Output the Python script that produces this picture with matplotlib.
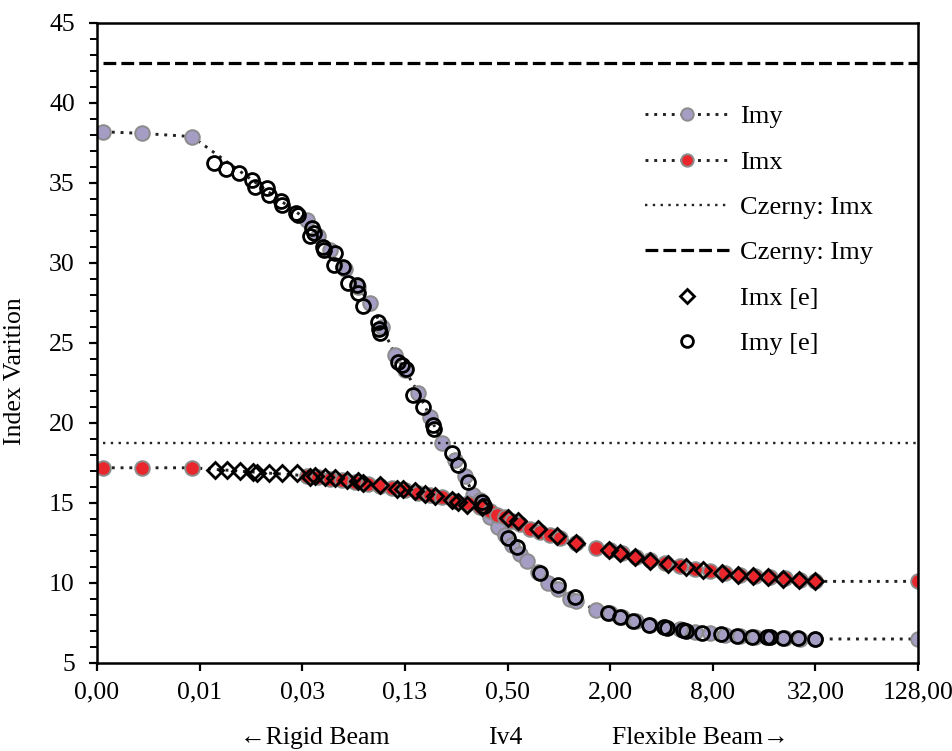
import matplotlib
matplotlib.use("Agg")
import matplotlib.pyplot as plt
from matplotlib.ticker import FixedLocator, MultipleLocator, NullFormatter

plt.rcParams['font.family'] = ['Liberation Serif', 'DejaVu Serif']

# simulation, Imy (purple)
imy_x = [0.00212, 0.00359, 0.00705, 0.03334, 0.03869, 0.04550, 0.05569, 0.06644,
         0.07813, 0.09188, 0.1095, 0.1254, 0.1494, 0.1757, 0.2066, 0.2464,
         0.2818, 0.3140, 0.3453, 0.3953, 0.4405, 0.4839, 0.5321, 0.5929,
         0.6516, 0.7563, 0.8657, 0.9903, 1.165, 1.263, 1.655, 2.000, 2.352,
         2.842, 3.434, 4.205, 5.152, 6.307, 7.723, 9.457, 11.58, 14.19,
         17.37, 21.27, 26.06, 32.0, 128.0]
imy_y = [38.2, 38.1, 37.9, 32.7, 31.7, 30.8, 29.6, 28.5,
         27.5, 26.0, 24.25, 23.3, 21.9, 20.4, 18.75, 17.7,
         16.7, 15.5, 15.2, 14.1, 13.5, 13.0, 12.4, 11.8,
         11.4, 10.7, 10.0, 9.6, 9.0, 8.9, 8.3, 8.1, 7.85,
         7.6, 7.4, 7.25, 7.1, 6.95, 6.85, 6.78, 6.7, 6.62,
         6.6, 6.56, 6.53, 6.5, 6.5]

# simulation, Imx (red)
imx_x = [0.00212, 0.00359, 0.00705, 0.03334, 0.03869, 0.04550, 0.05350, 0.06375,
         0.07606, 0.08944, 0.1052, 0.1254, 0.1494, 0.1757, 0.2066, 0.2464,
         0.2935, 0.3453, 0.3953, 0.4345, 0.4839, 0.5321, 0.5929, 0.6787,
         0.7769, 0.8893, 1.018, 1.263, 1.655, 2.000, 2.352, 2.842, 3.434,
         4.205, 5.152, 6.307, 7.723, 9.457, 11.58, 14.19, 17.37, 21.27,
         26.06, 32.0, 128.0]
imx_y = [17.2, 17.2, 17.2, 16.7, 16.6, 16.5, 16.45, 16.3,
         16.2, 16.05, 15.95, 15.8, 15.65, 15.5, 15.35, 15.15,
         15.0, 14.75, 14.5, 14.25, 14.1, 13.9, 13.7, 13.4,
         13.2, 13.0, 12.8, 12.5, 12.2, 12.05, 11.9, 11.65, 11.45,
         11.25, 11.05, 10.9, 10.75, 10.6, 10.5, 10.45, 10.4, 10.3,
         10.2, 10.1, 10.1]

# experiments, Imx [e] (diamonds)
imx_e_x = [0.00962, 0.01131, 0.01349, 0.01608, 0.01697, 0.01996, 0.02378, 0.02914,
           0.03472, 0.03716, 0.04250, 0.04866, 0.05722, 0.06644, 0.07106, 0.08944,
           0.1125, 0.1220, 0.1435, 0.1643, 0.1880, 0.2365, 0.2565, 0.2895,
           0.3548, 0.5042, 0.5770, 0.7563, 0.9773, 1.263, 1.966, 2.289, 2.803,
           3.434, 4.378, 5.583, 7.027, 9.079, 11.27, 13.81, 16.91, 20.71,
           25.70, 32.0]
imx_e_y = [17.05, 17.05, 17.0, 16.95, 16.9, 16.9, 16.85, 16.85,
           16.65, 16.7, 16.6, 16.55, 16.45, 16.35, 16.25, 16.1,
           15.9, 15.85, 15.75, 15.55, 15.45, 15.2, 15.05, 14.9,
           14.75, 14.05, 13.85, 13.35, 12.95, 12.5, 12.05, 11.9, 11.6,
           11.4, 11.2, 11.0, 10.8, 10.65, 10.5, 10.45, 10.4, 10.25,
           10.2, 10.1]

# experiments, Imy [e] (circles)
imy_e_x = [0.00949, 0.01116, 0.01330, 0.01586, 0.01652, 0.01942, 0.01996, 0.02347,
           0.02378, 0.02874, 0.02953, 0.03472, 0.03568, 0.03666, 0.04138, 0.04194,
           0.04866, 0.04803, 0.05422, 0.05803, 0.06550, 0.06644, 0.07106, 0.08706,
           0.08819, 0.08944, 0.1141, 0.1204, 0.1270, 0.1397, 0.1599, 0.1830,
           0.1855, 0.2365, 0.2565, 0.2935, 0.3548, 0.3645, 0.5042, 0.5692,
           0.7769, 0.9903, 1.246, 1.947, 2.289, 2.728, 3.387, 4.149, 4.319,
           5.363, 5.583, 6.932, 8.963, 11.13, 13.62, 16.68, 17.37, 20.71,
           25.35, 32.0]
imy_e_y = [36.25, 35.9, 35.6, 35.2, 34.75, 34.7, 34.25, 33.9,
           33.6, 33.1, 33.0, 31.7, 32.2, 31.9, 31.0, 30.8,
           30.6, 29.9, 29.75, 28.75, 28.6, 28.1, 27.3, 26.3,
           25.9, 25.6, 23.8, 23.6, 23.4, 21.75, 21.0, 19.9,
           19.6, 18.1, 17.4, 16.3, 15.06, 14.8, 12.8, 12.25,
           10.6, 9.9, 9.1, 8.1, 7.9, 7.6, 7.4, 7.25, 7.2,
           7.06, 7.0, 6.9, 6.8, 6.7, 6.62, 6.6, 6.6, 6.56,
           6.55, 6.5]

czerny_imx = 18.77
czerny_imy = 42.47
czerny_x = [0.00212, 128.0]

xticks = [2**-9, 2**-7, 2**-5, 2**-3, 2**-1, 2**1, 2**3, 2**5, 2**7]
xtick_labels = ['0,00', '0,01', '0,03', '0,13', '0,50', '2,00', '8,00', '32,00', '128,00']

purple = '#a59dc4'
red = '#e8262b'
edge = '#8c8c8c'
dots = (0, (1, 2.0))

fig = plt.figure(figsize=(9.53, 7.51), dpi=100)
ax = fig.add_axes([0.1018, 0.1172, 0.8615, 0.8522])

ax.plot(imy_x, imy_y, linestyle=dots, color='#222222', lw=2.1,
        marker='o', ms=10.5, mfc=purple, mec=edge, mew=1.4, label='Imy')
ax.plot(imx_x, imx_y, linestyle=dots, color='#222222', lw=2.1,
        marker='o', ms=10.5, mfc=red, mec=edge, mew=1.4, label='Imx')
ax.plot(czerny_x, [czerny_imx, czerny_imx], linestyle=(0, (1, 2.3)), color='#222222',
        lw=1.7, label='Czerny: Imx')
ax.plot(czerny_x, [czerny_imy, czerny_imy], linestyle=(0, (4, 1.6)), color='black',
        lw=2.3, label='Czerny: Imy')
ax.plot(imx_e_x, imx_e_y, linestyle='none', marker='D', ms=8, mfc='none',
        mec='black', mew=2.0, label='Imx [e]')
ax.plot(imy_e_x, imy_e_y, linestyle='none', marker='o', ms=10, mfc='none',
        mec='black', mew=2.0, label='Imy [e]')

ax.set_xscale('log', base=2)
ax.set_xlim(2**-9, 2**7)
ax.set_ylim(5, 45)
ax.xaxis.set_major_locator(FixedLocator(xticks))
ax.set_xticklabels(xtick_labels)
ax.xaxis.set_minor_locator(FixedLocator([]))
ax.xaxis.set_minor_formatter(NullFormatter())
ax.yaxis.set_major_locator(MultipleLocator(5))
ax.yaxis.set_minor_locator(MultipleLocator(1))

for s in ax.spines.values():
    s.set_linewidth(1.8)
ax.tick_params(axis='both', which='major', direction='out', length=6, width=1.6,
               labelsize=18.5)
ax.tick_params(axis='x', pad=7)
ax.tick_params(axis='y', pad=10)
ax.tick_params(axis='y', which='minor', direction='out', length=5, width=1.4)

ax.set_ylabel('Index Varition', fontsize=18.5)
ax.yaxis.set_label_coords(-0.087, 0.456)

fig.text(0.3305, 0.0173, '←Rigid Beam', fontsize=18.5, ha='center', va='center')
fig.text(0.530, 0.0173, 'Iv4', fontsize=18.5, ha='center', va='center')
fig.text(0.7345, 0.0173, 'Flexible Beam→', fontsize=18.5, ha='center', va='center')

ax.legend(loc='upper left', bbox_to_anchor=(0.667, 0.872), frameon=False,
          fontsize=19, handlelength=3.2, handletextpad=0.4, labelspacing=0.83,
          borderpad=0, borderaxespad=0, numpoints=1, markerscale=0.85)

fig.savefig('out.png', dpi=100)
